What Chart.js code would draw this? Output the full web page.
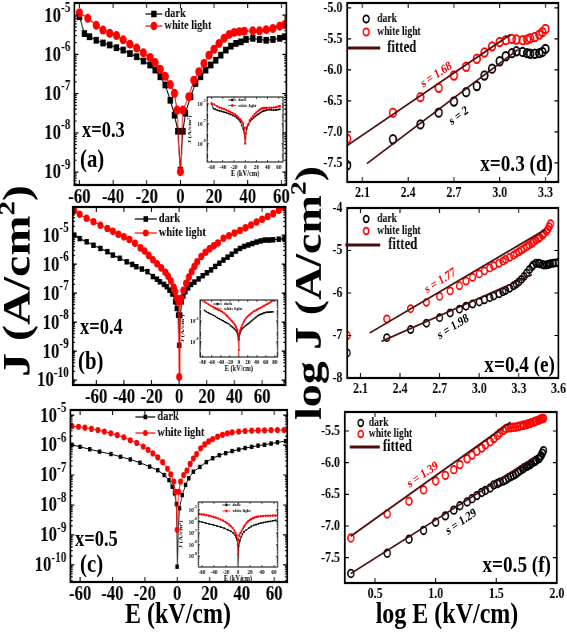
<!DOCTYPE html>
<html>
<head>
<meta charset="utf-8">
<script src="https://cdn.jsdelivr.net/npm/chart.js@4.4.1/dist/chart.umd.min.js"></script>
<style>
html, body { margin: 0; padding: 0; background: #fff; overflow: hidden; }
#page { position: absolute; left: 0; top: 0; width: 709px; height: 638px; transform: scaleX(0.8); transform-origin: 0 0; }
#page canvas { position: absolute; }
.txt { position: absolute; font-family: "Liberation Serif", "Times New Roman", serif; font-weight: bold; white-space: nowrap; line-height: 1; }
</style>
</head>
<body>
<div id="page"></div>
<script>
// picture is squeezed sideways, so everything is laid out wide and scaled by SX
const SX = 0.8;
const FONT = '"Liberation Serif", "Times New Roman", serif';
const RED = '#ff0000';
const BLACK = '#000000';
const FIT = '#4a0c0c';

// ---- (a) x=0.3, E in kV/cm, J as log10(A/cm2)
const aDarkE = [-60, -57, -54, -50, -46, -42, -38, -34, -30, -26, -22, -18, -15, -12, -9, -6, -3.5, -1.5, 0, 1.5, 3, 6, 9, 12, 15, 18, 21, 24, 27, 30, 33, 36, 39, 43, 47, 51, 55, 59, 62];
const aDarkJ = [-5.04, -5.47, -5.55, -5.64, -5.71, -5.76, -5.83, -5.89, -5.98, -6.06, -6.17, -6.27, -6.40, -6.57, -6.78, -7.17, -7.55, -7.96, -8.95, -7.96, -7.50, -7.08, -6.74, -6.57, -6.40, -6.27, -6.15, -6.02, -5.89, -5.79, -5.72, -5.68, -5.62, -5.59, -5.62, -5.64, -5.62, -5.59, -5.55];
const aLightE = [-60, -55, -50, -46, -42, -38, -34, -30, -26, -22, -18, -15, -12, -9, -6, -3.5, -2, 0, 1.5, 5, 8, 11, 14, 17, 20, 23, 26, 29, 32, 35, 38, 43, 47, 51, 55, 59, 62];
const aLightJ = [-4.94, -5.08, -5.26, -5.38, -5.46, -5.52, -5.63, -5.74, -5.84, -5.96, -6.08, -6.21, -6.38, -6.56, -6.77, -6.99, -7.42, -8.99, -7.42, -7.08, -6.66, -6.44, -6.23, -6.02, -5.87, -5.72, -5.59, -5.49, -5.44, -5.42, -5.41, -5.40, -5.40, -5.37, -5.34, -5.28, -5.24];

// ---- (b) x=0.4
const bDarkE = [-76, -72, -67, -62, -57, -52, -48, -43, -38, -34, -31, -27, -23, -19, -16, -14, -11, -9, -7, -5, -3, -1.7, -0.8, 0, 0.8, 1.9, 3, 4.5, 6.5, 8.5, 11, 14, 17, 20, 23, 26, 29, 32, 35, 38, 41, 44, 47, 50, 53, 56, 59, 62, 65, 68, 72, 76];
const bDarkJ = [-5.00, -5.12, -5.23, -5.35, -5.46, -5.57, -5.69, -5.80, -5.92, -6.01, -6.09, -6.17, -6.26, -6.43, -6.52, -6.61, -6.70, -6.78, -6.90, -7.03, -7.30, -7.53, -7.76, -8.80, -7.76, -7.30, -7.10, -6.95, -6.82, -6.70, -6.62, -6.51, -6.40, -6.30, -6.20, -6.08, -5.97, -5.86, -5.76, -5.66, -5.55, -5.46, -5.39, -5.34, -5.29, -5.24, -5.20, -5.17, -5.17, -5.16, -5.14, -5.13];
const bLightE = [-76, -72, -67, -62, -57, -52, -48, -44, -40, -36, -32, -28, -25, -22, -19, -16, -13, -10, -8, -6, -4, -2.9, -1.7, -0.5, 0, 0.5, 1.5, 3, 5, 7, 9, 11, 13, 16, 19, 22, 25, 28, 32, 36, 40, 44, 48, 52, 56, 60, 64, 68, 72, 76];
const bLightJ = [-4.16, -4.28, -4.42, -4.54, -4.66, -4.77, -4.87, -4.97, -5.06, -5.15, -5.28, -5.44, -5.55, -5.70, -5.85, -5.99, -6.13, -6.28, -6.42, -6.58, -6.80, -6.95, -7.18, -7.30, -9.89, -7.30, -7.18, -6.90, -6.66, -6.45, -6.26, -6.08, -5.92, -5.74, -5.59, -5.47, -5.37, -5.27, -5.11, -5.02, -4.93, -4.84, -4.75, -4.65, -4.55, -4.45, -4.36, -4.26, -4.14, -4.05];

// ---- (c) x=0.5
const cDarkE = [-65, -60, -54, -48, -41, -35, -29, -23, -17, -12, -8, -5, -3, -1.7, -0.4, 0, 1.4, 3.1, 5.2, 7.2, 10, 14, 18, 22, 26, 30, 34, 38, 42, 46, 50, 54, 58, 62, 67];
const cDarkJ = [-5.99, -6.06, -6.14, -6.22, -6.30, -6.39, -6.48, -6.59, -6.72, -6.84, -7.00, -7.17, -7.39, -7.61, -7.97, -10.06, -8.11, -7.67, -7.33, -7.11, -6.89, -6.73, -6.57, -6.44, -6.34, -6.27, -6.20, -6.15, -6.10, -6.06, -6.02, -5.99, -5.95, -5.91, -5.87];
const cLightE = [-65, -61, -57, -53, -49, -45, -41, -37, -33, -29, -25, -21, -18, -15, -12, -9, -6, -4, -2.1, -1, 0, 1, 2.1, 4, 6, 8, 10, 12, 14.5, 17, 19.5, 22, 25, 28, 31, 34, 38, 42, 46, 50, 54, 58, 62, 66];
const cLightJ = [-5.37, -5.39, -5.42, -5.46, -5.50, -5.55, -5.61, -5.67, -5.74, -5.84, -5.93, -6.05, -6.16, -6.28, -6.41, -6.57, -6.79, -6.98, -7.22, -7.56, -8.83, -7.56, -7.22, -7.00, -6.85, -6.63, -6.45, -6.30, -6.11, -5.98, -5.88, -5.80, -5.72, -5.66, -5.61, -5.58, -5.55, -5.53, -5.52, -5.51, -5.51, -5.50, -5.50, -5.50];

// ---- (d) log J vs log E, x=0.3
const dLogE = [2.00, 2.30, 2.48, 2.60, 2.70, 2.78, 2.85, 2.90, 2.95, 3.00, 3.04, 3.08, 3.11, 3.15, 3.18, 3.20, 3.23, 3.26, 3.28, 3.30];
const dDarkJ = [-7.54, -7.12, -6.88, -6.69, -6.51, -6.36, -6.26, -6.09, -5.98, -5.86, -5.78, -5.73, -5.70, -5.71, -5.73, -5.74, -5.74, -5.73, -5.71, -5.66];
const dLightJ = [-7.11, -6.69, -6.44, -6.29, -6.09, -5.95, -5.82, -5.72, -5.62, -5.55, -5.52, -5.50, -5.51, -5.52, -5.51, -5.49, -5.47, -5.43, -5.39, -5.34];
const dFitDarkE = [2.13, 3.12], dFitDarkJ = [-7.51, -5.67];
const dFitLightE = [2.00, 3.07], dFitLightJ = [-7.22, -5.43];

// ---- (e) x=0.4
const eLightE = [2.00, 2.30, 2.48, 2.60, 2.70, 2.78, 2.85, 2.90, 2.95, 3.00, 3.04, 3.08, 3.11, 3.15, 3.18, 3.20, 3.23, 3.26, 3.28, 3.30, 3.32, 3.34, 3.36, 3.38, 3.40, 3.41, 3.43, 3.45, 3.46, 3.48, 3.49, 3.51, 3.52, 3.53, 3.54];
const eLightJ = [-7.00, -6.61, -6.37, -6.22, -6.08, -5.95, -5.83, -5.72, -5.63, -5.55, -5.48, -5.41, -5.36, -5.30, -5.25, -5.21, -5.16, -5.11, -5.07, -5.03, -4.99, -4.95, -4.91, -4.87, -4.83, -4.80, -4.76, -4.72, -4.69, -4.64, -4.60, -4.55, -4.50, -4.44, -4.37];
const eDarkE = [2.00, 2.30, 2.48, 2.60, 2.70, 2.78, 2.85, 2.90, 2.95, 3.00, 3.04, 3.08, 3.11, 3.15, 3.18, 3.20, 3.23, 3.26, 3.28, 3.30, 3.32, 3.34, 3.36, 3.38, 3.40, 3.41, 3.43, 3.45, 3.46, 3.48, 3.49, 3.51, 3.52, 3.53, 3.54, 3.56, 3.58, 3.60];
const eDarkJ = [-7.41, -7.05, -6.86, -6.71, -6.58, -6.47, -6.38, -6.31, -6.26, -6.21, -6.16, -6.11, -6.07, -6.02, -5.97, -5.94, -5.89, -5.83, -5.79, -5.74, -5.68, -5.61, -5.53, -5.45, -5.38, -5.34, -5.30, -5.30, -5.31, -5.33, -5.34, -5.34, -5.33, -5.32, -5.31, -5.30, -5.29, -5.28];
const eFitDarkE = [2.26, 3.40], eFitDarkJ = [-7.14, -5.57];
const eFitLightE = [2.17, 3.50], eFitLightJ = [-6.94, -4.51];

// ---- (f) x=0.5
const fLogE = [0.30, 0.60, 0.78, 0.90, 1.00, 1.08, 1.15, 1.20, 1.26, 1.30, 1.34, 1.38, 1.41, 1.45, 1.48, 1.51, 1.53, 1.56, 1.58, 1.60, 1.62, 1.64, 1.66, 1.68, 1.70, 1.72, 1.73, 1.75, 1.76, 1.78, 1.79, 1.81, 1.82, 1.83, 1.85, 1.86, 1.87, 1.88, 1.89];
const fLightJ = [-7.19, -6.81, -6.61, -6.43, -6.29, -6.20, -6.11, -6.03, -5.94, -5.88, -5.82, -5.77, -5.72, -5.67, -5.62, -5.57, -5.53, -5.49, -5.46, -5.45, -5.45, -5.44, -5.44, -5.43, -5.42, -5.41, -5.41, -5.40, -5.39, -5.38, -5.37, -5.36, -5.35, -5.34, -5.33, -5.32, -5.31, -5.30, -5.30];
const fDarkJ = [-7.75, -7.43, -7.21, -7.07, -6.94, -6.84, -6.75, -6.68, -6.62, -6.57, -6.52, -6.47, -6.44, -6.40, -6.35, -6.33, -6.31, -6.29, -6.27, -6.24, -6.22, -6.20, -6.18, -6.15, -6.12, -6.10, -6.08, -6.06, -6.05, -6.03, -6.01, -5.99, -5.98, -5.96, -5.94, -5.92, -5.89, -5.85, -5.81];
const fFitDarkE = [0.30, 1.82], fFitDarkJ = [-7.75, -5.91];
const fFitLightE = [0.30, 1.62], fFitLightJ = [-7.16, -5.36];

// tick labels
const eTicks = [-60, -40, -20, 0, 20, 40, 60];
const eTicksWide = [-80, -60, -40, -20, 0, 20, 40, 60, 80];
const dTicksX = [2.1, 2.4, 2.7, 3.0, 3.3], dTicksY = [-7.5, -7.0, -6.5, -6.0, -5.5, -5.0];
const eTicksX = [2.1, 2.4, 2.7, 3.0, 3.3, 3.6], eTicksY = [-8, -7, -6, -5, -4];
const fTicksX = [0.5, 1.0, 1.5, 2.0], fTicksY = [-7.5, -7.0, -6.5, -6.0, -5.5];

const page = document.getElementById('page');

// box with inward ticks (and log minor ticks)
const boxTicks = {
    id: 'boxTicks',
    afterDatasetsDraw(chart, args, o) {
        if (!o || !o.lw) return;
        const ctx = chart.ctx, a = chart.chartArea, xs = chart.scales.x, ys = chart.scales.y;
        ctx.save();
        ctx.strokeStyle = '#000';
        ctx.lineWidth = o.tw;
        ctx.beginPath();
        xs.ticks.forEach(t => {
            const x = xs.getPixelForValue(t.value);
            ctx.moveTo(x, a.bottom); ctx.lineTo(x, a.bottom - o.len);
            ctx.moveTo(x, a.top); ctx.lineTo(x, a.top + o.len);
        });
        ys.ticks.forEach(t => {
            const y = ys.getPixelForValue(t.value);
            ctx.moveTo(a.left, y); ctx.lineTo(a.left + o.len, y);
            ctx.moveTo(a.right, y); ctx.lineTo(a.right - o.len, y);
        });
        if (o.minor) {
            for (let d = Math.floor(ys.min); d < ys.max; d++) {
                for (let k = 2; k < 10; k++) {
                    const v = d + Math.log10(k);
                    if (v <= ys.min || v >= ys.max) continue;
                    const y = ys.getPixelForValue(v);
                    ctx.moveTo(a.left, y); ctx.lineTo(a.left + o.len * 0.55, y);
                    ctx.moveTo(a.right, y); ctx.lineTo(a.right - o.len * 0.55, y);
                }
            }
        }
        ctx.stroke();
        ctx.lineWidth = o.lw;
        ctx.strokeRect(a.left, a.top, a.right - a.left, a.bottom - a.top);
        ctx.restore();
    }
};

// "10" with a raised exponent for the log axes
const powLabels = {
    id: 'powLabels',
    afterDraw(chart, args, o) {
        if (!o || !o.big) return;
        const ctx = chart.ctx, ys = chart.scales.y, right = chart.chartArea.left - o.gap;
        ctx.save();
        ctx.fillStyle = '#000';
        ctx.textBaseline = 'middle';
        ctx.textAlign = 'right';
        ys.ticks.forEach(t => {
            const y = ys.getPixelForValue(t.value);
            const ex = String(t.value);
            ctx.font = 'bold ' + o.small + 'px ' + FONT;
            ctx.fillText(ex, right, y - o.rise);
            const w = ctx.measureText(ex).width;
            ctx.font = 'bold ' + o.big + 'px ' + FONT;
            ctx.fillText('10', right - w, y + o.drop);
        });
        ctx.restore();
    }
};

// legend drawn inside the frame, positions given in picture px
const keyBox = {
    id: 'keyBox',
    afterDraw(chart, args, o) {
        if (!o || !o.items || !o.items.length) return;
        const ctx = chart.ctx, a = chart.chartArea, f = o.frame;
        const px = x => a.left + (x - f.l) / SX;
        const py = y => a.top + (y - f.t);
        ctx.save();
        o.items.forEach(it => {
            const y = py(it.y);
            if (it.lw) {
                ctx.strokeStyle = it.color;
                ctx.lineWidth = it.lw;
                ctx.beginPath();
                ctx.moveTo(px(it.x0), y);
                ctx.lineTo(px(it.x1), y);
                ctx.stroke();
            }
            if (it.mk) {
                const mx = it.mx !== undefined ? px(it.mx) : (px(it.x0) + px(it.x1)) / 2;
                ctx.beginPath();
                if (it.mk === 'rect') ctx.rect(mx - it.r, y - it.r, it.r * 2, it.r * 2);
                else ctx.arc(mx, y, it.r, 0, Math.PI * 2);
                if (it.open) {
                    ctx.strokeStyle = it.color;
                    ctx.lineWidth = it.bw;
                    ctx.stroke();
                } else {
                    ctx.fillStyle = it.color;
                    ctx.fill();
                }
            }
            ctx.fillStyle = '#000';
            ctx.font = 'bold ' + it.fs + 'px ' + FONT;
            ctx.textAlign = 'left';
            ctx.textBaseline = 'middle';
            ctx.fillText(it.text, px(it.tx), y);
        });
        ctx.restore();
    }
};

Chart.register(boxTicks, powLabels, keyBox);

function pts(xs, ys) {
    return xs.map((x, i) => ({x: x, y: ys[i]}));
}

function curve(xs, ys, color, style, r, lw) {
    return {
        data: pts(xs, ys), showLine: true, borderColor: color, borderWidth: lw,
        pointStyle: style, pointRadius: r, pointBorderWidth: 0,
        pointBackgroundColor: color, pointBorderColor: color
    };
}

function rings(xs, ys, color, r, bw) {
    return {
        data: pts(xs, ys), showLine: false, pointStyle: 'circle', pointRadius: r,
        pointBorderWidth: bw, pointBorderColor: color, pointBackgroundColor: 'rgba(0,0,0,0)'
    };
}

function fitLine(xs, ys) {
    return {data: pts(xs, ys), showLine: true, borderColor: FIT, borderWidth: 1.8, pointRadius: 0};
}

function panel(o) {
    const cv = document.createElement('canvas');
    const fw = Math.round((o.frame.r - o.frame.l) / SX);
    const fh = o.frame.b - o.frame.t;
    cv.width = fw + o.pad.l + o.pad.r;
    cv.height = fh + o.pad.t + o.pad.b;
    cv.style.left = Math.round(o.frame.l / SX - o.pad.l) + 'px';
    cv.style.top = (o.frame.t - o.pad.t) + 'px';
    page.appendChild(cv);
    return new Chart(cv, {
        type: 'scatter',
        data: {datasets: o.sets},
        options: {
            responsive: false,
            animation: false,
            devicePixelRatio: 1,
            layout: {padding: {left: 0, right: o.pad.r, top: o.pad.t, bottom: 0}},
            plugins: {
                legend: {display: false},
                tooltip: {enabled: false},
                boxTicks: {lw: o.lw, tw: o.tw || 1.2, len: o.len, minor: !!o.pow},
                powLabels: o.pow || {},
                keyBox: {frame: o.frame, items: o.key || []}
            },
            scales: {
                x: {
                    type: 'linear', min: o.x[0], max: o.x[1],
                    grid: {display: false, drawTicks: false}, border: {display: false},
                    title: o.xTitle ? {display: true, text: o.xTitle[0], padding: 0, font: {size: o.xTitle[1], weight: 'bold'}} : {display: false},
                    afterBuildTicks: s => { s.ticks = o.xt.map(v => ({value: v})); },
                    afterFit: s => { s.height = o.pad.b; },
                    ticks: {autoSkip: false, maxRotation: 0, minRotation: 0, padding: o.xpad, color: '#000',
                            font: {size: o.fs, weight: 'bold', family: FONT}, callback: o.xf}
                },
                y: {
                    type: 'linear', min: o.y[0], max: o.y[1],
                    grid: {display: false, drawTicks: false}, border: {display: false},
                    title: o.yTitle ? {display: true, text: o.yTitle[0], padding: 0, font: {size: o.yTitle[1], weight: 'bold'}} : {display: false},
                    afterBuildTicks: s => { s.ticks = o.yt.map(v => ({value: v})); },
                    afterFit: s => { s.width = o.pad.l; },
                    ticks: {display: !o.pow, autoSkip: false, padding: 6, color: '#000',
                            font: {size: o.fs, weight: 'bold', family: FONT}, callback: o.yf}
                }
            }
        }
    });
}

// text box; centred boxes get a fixed width so rotation happens about (x, y)
function note(html, x, y, size, color, anchor, rot) {
    const d = document.createElement('div');
    d.className = 'txt';
    d.innerHTML = html;
    d.style.fontSize = size + 'px';
    d.style.color = color;
    d.style.top = y + 'px';
    if (anchor === 'center') {
        d.style.width = '400px';
        d.style.textAlign = 'center';
        d.style.left = (x / SX - 200) + 'px';
        d.style.transformOrigin = '50% 50%';
        d.style.transform = 'translateY(-50%) rotate(' + (rot || 0) + 'deg)';
    } else {
        d.style.left = (x / SX) + 'px';
        d.style.transform = anchor === 'right' ? 'translate(-100%, -50%)' : 'translateY(-50%)';
    }
    page.appendChild(d);
}

// vertical axis titles with a raised "2", drawn on their own canvas
function sideTitles(list) {
    const cv = document.createElement('canvas');
    cv.width = 709; cv.height = 638;
    cv.style.left = '0px'; cv.style.top = '0px';
    page.appendChild(cv);
    const ctx = cv.getContext('2d');
    ctx.fillStyle = '#000';
    ctx.textBaseline = 'middle';
    ctx.textAlign = 'left';
    list.forEach(t => {
        const big = 'bold ' + t.size + 'px ' + FONT;
        const small = 'bold ' + Math.round(t.size * 0.6) + 'px ' + FONT;
        ctx.font = big;
        const w1 = ctx.measureText(t.head).width, w3 = ctx.measureText(t.tail).width;
        ctx.font = small;
        const w2 = ctx.measureText(t.sup).width;
        ctx.save();
        ctx.translate(t.x / SX, t.y);
        ctx.rotate(-Math.PI / 2);
        let cx = -(w1 + w2 + w3) / 2;
        ctx.font = big; ctx.fillText(t.head, cx, 0); cx += w1;
        ctx.font = small; ctx.fillText(t.sup, cx, -t.size * 0.3); cx += w2;
        ctx.font = big; ctx.fillText(t.tail, cx, 0);
        ctx.restore();
    });
}

Chart.defaults.font.family = FONT;
Chart.defaults.color = '#000';

const intFmt = v => String(v);
const oneFmt = v => v.toFixed(1);
const logPad = {l: 62, r: 14, t: 8, b: 32};
const powMain = {big: 21, small: 14, gap: 5, rise: 7, drop: 1};

function leftKey(y1, y2, x0, x1, tx, sq, cr) {
    return [
        {y: y1, x0: x0, x1: x1, lw: 1.2, mk: 'rect', r: sq, color: BLACK, text: 'dark', tx: tx, fs: 13},
        {y: y2, x0: x0, x1: x1, lw: 1.2, mk: 'circle', r: cr, color: RED, text: 'white light', tx: tx, fs: 13}
    ];
}

function rightKey(y1, y2, y3, mx, tx, fx0, fx1, ftx, r) {
    return [
        {y: y1, mk: 'circle', mx: mx, r: r, open: true, bw: 1.8, color: BLACK, text: 'dark', tx: tx, fs: 12},
        {y: y2, mk: 'circle', mx: mx, r: r, open: true, bw: 1.8, color: RED, text: 'white light', tx: tx, fs: 12},
        {y: y3, x0: fx0, x1: fx1, lw: 3, color: FIT, text: 'fitted', tx: ftx, fs: 16}
    ];
}

function insetKey(y1, y2, x0, x1, tx) {
    return [
        {y: y1, x0: x0, x1: x1, lw: 0.8, mk: 'rect', r: 1.2, color: BLACK, text: 'dark', tx: tx, fs: 5},
        {y: y2, x0: x0, x1: x1, lw: 0.8, mk: 'circle', r: 1.4, color: RED, text: 'white light', tx: tx, fs: 5}
    ];
}

sideTitles([
    {head: 'J (A/cm', sup: '2', tail: ')', x: 20, y: 281, size: 48},
    {head: 'log J (A/cm', sup: '2', tail: ')', x: 311, y: 293, size: 46}
]);

// ---- left column
panel({
    frame: {l: 74, r: 286, t: 3, b: 185}, pad: logPad, x: [-63, 63], y: [-9.33, -4.69],
    xt: eTicks, yt: [-9, -8, -7, -6, -5], xf: intFmt, fs: 21, xpad: 0, lw: 2.2, len: 5, pow: powMain,
    sets: [curve(aLightE, aLightJ, RED, 'circle', 4.5, 1.2), curve(aDarkE, aDarkJ, BLACK, 'rect', 4.8, 1.2)],
    key: leftKey(14, 26, 145, 162, 164, 3.3, 4.2)
});
panel({
    frame: {l: 73, r: 286, t: 207, b: 385}, pad: logPad, x: [-77, 77], y: [-10.17, -4.03],
    xt: eTicks, yt: [-10, -9, -8, -7, -6, -5], xf: intFmt, fs: 21, xpad: 0, lw: 2.2, len: 5, pow: powMain,
    sets: [curve(bLightE, bLightJ, RED, 'circle', 3.8, 1.2), curve(bDarkE, bDarkJ, BLACK, 'rect', 3.9, 1.2)],
    key: leftKey(219, 233, 135, 157, 159, 2.8, 3.6)
});
panel({
    frame: {l: 70, r: 287, t: 410, b: 582}, pad: logPad, x: [-66, 68], y: [-10.57, -4.83],
    xt: eTicks, yt: [-10, -9, -8, -7, -6, -5], xf: intFmt, fs: 21, xpad: 0, lw: 2.2, len: 5, pow: powMain,
    sets: [curve(cLightE, cLightJ, RED, 'circle', 3.1, 1), curve(cDarkE, cDarkJ, BLACK, 'rect', 3.1, 1)],
    key: leftKey(417, 433, 135, 155, 157, 2.3, 3)
});

// ---- insets (same measurements, wider view)
const insetPad = {l: 26, r: 3, t: 2, b: 17};
const powInset = {big: 6.5, small: 4.5, gap: 2, rise: 2.5, drop: 0.5};
panel({
    frame: {l: 207, r: 284, t: 95, b: 162}, pad: insetPad, x: [-68, 68], y: [-10.84, -4.32],
    xt: eTicks, yt: [-9, -7, -5], xf: intFmt, fs: 6.5, xpad: 1, lw: 1, tw: 0.8, len: 2, pow: powInset,
    xTitle: ['E (kV/cm)', 8], yTitle: ['J (A/cm²)', 7],
    sets: [curve(aLightE, aLightJ, RED, 'circle', 1.3, 1), curve(aDarkE, aDarkJ, BLACK, 'rect', 1.3, 1)],
    key: insetKey(98, 103.5, 228, 236, 238)
});
panel({
    frame: {l: 200, r: 278, t: 298, b: 357}, pad: insetPad, x: [-86, 86], y: [-9.45, -4.0],
    xt: eTicksWide, yt: [-8, -6], xf: intFmt, fs: 6.5, xpad: 1, lw: 1, tw: 0.8, len: 2, pow: powInset,
    xTitle: ['E (kV/cm)', 8], yTitle: ['J (A/cm²)', 7],
    sets: [curve(bLightE, bLightJ, RED, 'circle', 1.2, 1), curve(bDarkE, bDarkJ, BLACK, 'rect', 1.2, 1)],
    key: insetKey(302, 307, 213, 222, 224)
});
panel({
    frame: {l: 198, r: 278, t: 500, b: 567}, pad: insetPad, x: [-66, 66], y: [-9.92, -4.33],
    xt: eTicks, yt: [-9, -8, -7, -6, -5], xf: intFmt, fs: 6.5, xpad: 1, lw: 1, tw: 0.8, len: 2, pow: powInset,
    xTitle: ['E (kV/cm)', 8], yTitle: ['J (A/cm²)', 7],
    sets: [curve(cLightE, cLightJ, RED, 'circle', 1.3, 1), curve(cDarkE, cDarkJ, BLACK, 'rect', 1.3, 1)],
    key: insetKey(503, 509, 222, 230, 232)
});

// ---- right column (top pad covers the half-height of the top tick label)
const linPad = {l: 48, r: 12, t: 17, b: 24};
panel({
    frame: {l: 347, r: 558, t: 3, b: 182}, pad: linPad, x: [2.0, 3.385], y: [-7.81, -4.92],
    xt: dTicksX, yt: dTicksY, xf: oneFmt, yf: oneFmt, fs: 15, xpad: 2, lw: 2.2, len: 5,
    sets: [fitLine(dFitLightE, dFitLightJ), fitLine(dFitDarkE, dFitDarkJ),
           rings(dLogE, dLightJ, RED, 4.2, 2), rings(dLogE, dDarkJ, BLACK, 4.2, 2)],
    key: rightKey(19, 32, 48, 366, 377, 347, 380, 387, 3.6)
});
panel({
    frame: {l: 347, r: 558, t: 208, b: 378}, pad: linPad, x: [2.0, 3.6], y: [-8, -4],
    xt: eTicksX, yt: eTicksY, xf: oneFmt, yf: intFmt, fs: 15, xpad: 2, lw: 2.2, len: 5,
    sets: [fitLine(eFitLightE, eFitLightJ), fitLine(eFitDarkE, eFitDarkJ),
           rings(eLightE, eLightJ, RED, 3.6, 1.7), rings(eDarkE, eDarkJ, BLACK, 3.6, 1.7)],
    key: rightKey(219, 231, 245, 366, 377, 345, 380, 388, 3.3)
});
panel({
    frame: {l: 345, r: 557, t: 412, b: 583}, pad: linPad, x: [0.25, 2.0], y: [-7.9, -5.2],
    xt: fTicksX, yt: fTicksY, xf: oneFmt, yf: oneFmt, fs: 15, xpad: 2, lw: 2.2, len: 5,
    sets: [fitLine(fFitLightE, fFitLightJ), fitLine(fFitDarkE, fFitDarkJ),
           rings(fLogE, fLightJ, RED, 3.8, 1.8), rings(fLogE, fDarkJ, BLACK, 3.8, 1.8)],
    key: rightKey(423, 434, 447, 361, 369, 350, 380, 383, 3.3)
});

// ---- texts
note('x=0.3', 82, 129, 23, BLACK, 'left');
note('(a)', 80, 159, 26, BLACK, 'left');
note('x=0.4', 80, 326, 23, BLACK, 'left');
note('(b)', 78, 361, 26, BLACK, 'left');
note('x=0.5', 75, 538, 23, BLACK, 'left');
note('(c)', 80, 564, 26, BLACK, 'left');

note('x=0.3 (d)', 553, 163, 24, BLACK, 'right');
note('x=0.4 (e)', 555, 364, 24, BLACK, 'right');
note('x=0.5 (f)', 551, 564, 24, BLACK, 'right');

note('s = 1.68', 436, 74, 13, RED, 'center', -28);
note('s = 2', 458, 115, 13, BLACK, 'center', -31);
note('s = 1.77', 440, 280, 13, RED, 'center', -27);
note('s = 1.98', 453, 326, 13, BLACK, 'center', -27);
note('s = 1.39', 422, 474, 13, RED, 'center', -29);
note('s = 1.29', 461, 521, 13, BLACK, 'center', -29);

note('E (kV/cm)', 178, 613, 30, BLACK, 'center');
note('log E (kV/cm)', 447, 613, 30, BLACK, 'center');
</script>
</body>
</html>
